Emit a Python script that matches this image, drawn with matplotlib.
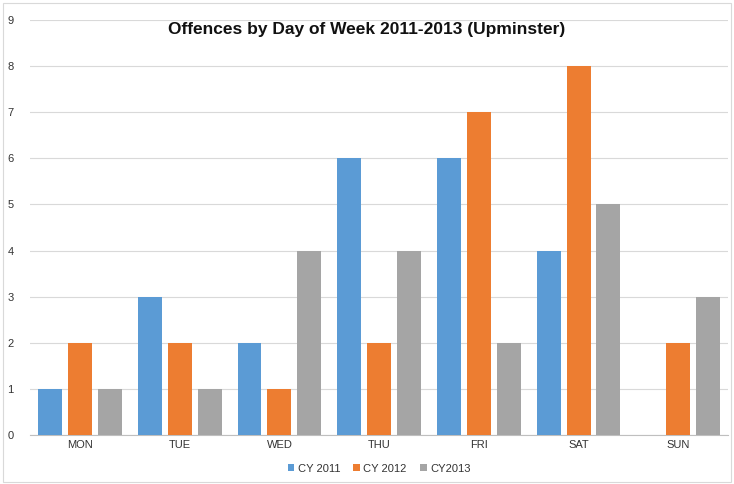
import numpy as np
import matplotlib
matplotlib.use("Agg")
import matplotlib.pyplot as plt
from matplotlib.patches import Rectangle

plt.rcParams["font.family"] = ["Liberation Sans", "DejaVu Sans"]

days = ["MON", "TUE", "WED", "THU", "FRI", "SAT", "SUN"]
cy2011 = [1, 3, 2, 6, 6, 4, 0]
cy2012 = [2, 2, 1, 2, 7, 8, 2]
cy2013 = [1, 1, 4, 4, 2, 5, 3]
series_names = ["CY 2011", "CY 2012", "CY2013"]
colors = ["#5B9BD5", "#ED7D31", "#A5A5A5"]

fig = plt.figure(figsize=(7.34, 4.84), dpi=100)
ax = fig.add_axes([0.041, 0.101, 0.951, 0.858])

x = np.arange(len(days))
w = 0.24
step = 0.3
for i, (vals, name, c) in enumerate(zip([cy2011, cy2012, cy2013], series_names, colors)):
    ax.bar(x + (i - 1) * step, vals, width=w, color=c, label=name, zorder=3)

ax.set_xlim(-0.5, len(days) - 0.5)
ax.set_ylim(0, 9)
ax.set_yticks(range(0, 10))
ax.set_xticks(x)
ax.set_xticklabels(days)
ax.tick_params(axis="both", length=0, labelsize=8, colors="#333333")
ax.tick_params(axis="y", pad=12)
ax.grid(axis="y", color="#D9D9D9", linewidth=0.8, zorder=0)
for s in ["top", "right", "left"]:
    ax.spines[s].set_visible(False)
ax.spines["bottom"].set_color("#BFBFBF")

fig.text(0.5, 0.94, "Offences by Day of Week 2011-2013 (Upminster)",
         ha="center", va="center", fontsize=12.5, fontweight="bold", color="#111111")

ax.legend(loc="upper center", bbox_to_anchor=(0.5, -0.045), ncol=3, frameon=False,
          fontsize=8, handlelength=0.6, handleheight=0.6, handletextpad=0.3,
          columnspacing=1.2, labelcolor="#333333")

fig.patches.append(Rectangle((0.004, 0.004), 0.992, 0.99, transform=fig.transFigure,
                             fill=False, edgecolor="#D9D9D9", linewidth=0.8))

fig.savefig("out.png", dpi=100)
